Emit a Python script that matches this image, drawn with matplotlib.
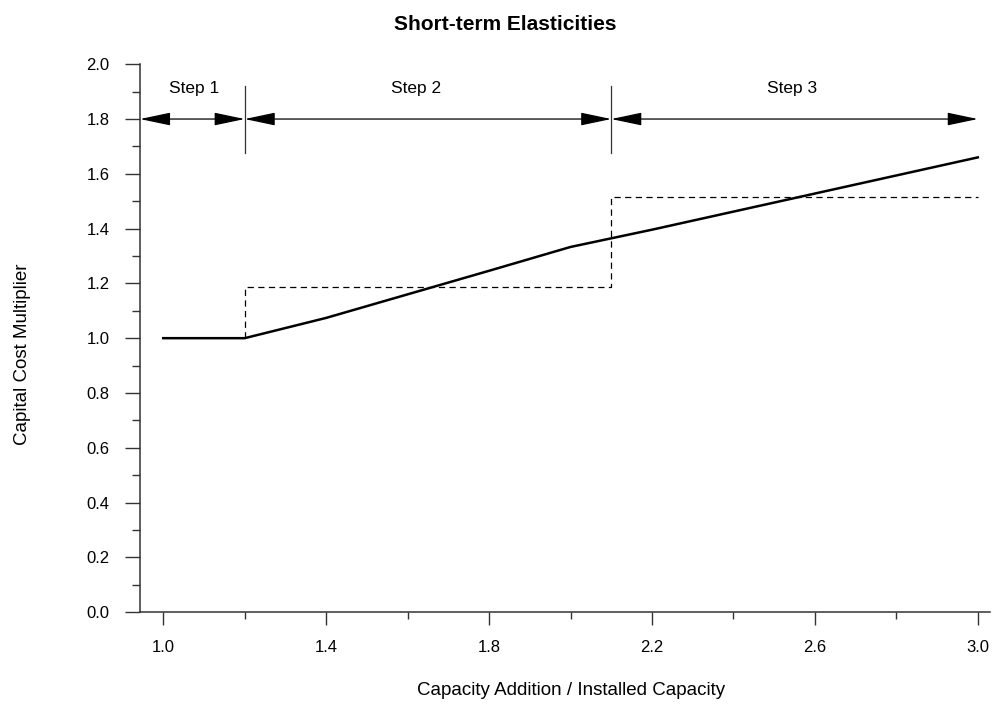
import matplotlib
matplotlib.use('Agg')
import matplotlib.pyplot as plt
from matplotlib.ticker import MultipleLocator, FormatStrFormatter

plt.rcParams['font.family'] = ['Liberation Sans', 'DejaVu Sans']

# solid curve: capital cost multiplier
cap_x = [1.0, 1.2, 1.4, 1.6, 1.8, 2.0, 2.2, 2.6, 3.0]
cap_y = [1.0, 1.0, 1.074, 1.16, 1.246, 1.333, 1.396, 1.528, 1.66]

# dashed step approximation
step_x = [1.2, 1.2, 2.1, 2.1, 3.0]
step_y = [1.0, 1.185, 1.185, 1.516, 1.516]

# step boundaries and labels
bounds = [0.943, 1.2, 2.1, 3.0]
step_labels = ['Step 1', 'Step 2', 'Step 3']
label_x = [1.075, 1.62, 2.545]
arrow_y = 1.8

xticks = [1.0, 1.4, 1.8, 2.2, 2.6, 3.0]
xticklabels = ['1.0', '1.4', '1.8', '2.2', '2.6', '3.0']
xminor = [1.2, 1.6, 2.0, 2.4, 2.8]

fig = plt.figure(figsize=(9.93, 7.06), dpi=100)
ax = fig.add_axes([0.141, 0.133, 0.856, 0.776])

ax.plot(cap_x, cap_y, color='black', lw=1.8)
ax.plot(step_x, step_y, color='black', lw=0.9, linestyle=(0, (5, 3.5)))

for i in range(3):
    ax.annotate('', xy=(bounds[i + 1], arrow_y), xytext=(bounds[i], arrow_y),
                arrowprops=dict(arrowstyle='<|-|>,head_length=1.9,head_width=0.4',
                                color='black', lw=0.9, shrinkA=0, shrinkB=0,
                                mutation_scale=10))
    ax.text(label_x[i], 1.91, step_labels[i], ha='center', va='center', fontsize=12.5)

for b in bounds[1:3]:
    ax.plot([b, b], [1.675, 1.92], color='#333333', lw=0.9)

ax.set_xlim(0.943, 3.03)
ax.set_ylim(0, 2.0)
ax.set_xticks(xticks)
ax.set_xticklabels(xticklabels)
ax.set_xticks(xminor, minor=True)
ax.yaxis.set_major_locator(MultipleLocator(0.2))
ax.yaxis.set_minor_locator(MultipleLocator(0.1))
ax.yaxis.set_major_formatter(FormatStrFormatter('%.1f'))

for s in ['top', 'right']:
    ax.spines[s].set_visible(False)
for s in ['left', 'bottom']:
    ax.spines[s].set_color('#333333')
    ax.spines[s].set_linewidth(1.1)

ax.tick_params(axis='x', which='major', length=9, width=1, color='#333333', pad=11, labelsize=12)
ax.tick_params(axis='x', which='minor', length=5, width=1, color='#333333')
ax.tick_params(axis='y', which='major', length=11, width=1, color='#333333', pad=11, labelsize=12)
ax.tick_params(axis='y', which='minor', length=6, width=1, color='#333333')

ax.set_xlabel('Capacity Addition / Installed Capacity', fontsize=13.5)
ax.set_ylabel('Capital Cost Multiplier', fontsize=13.5)
ax.xaxis.set_label_coords(0.507, -0.128)
ax.yaxis.set_label_coords(-0.128, 0.471)
fig.text(0.5086, 0.965, 'Short-term Elasticities', ha='center', va='center',
         fontsize=15, fontweight='bold')

fig.savefig('out.png', dpi=100)
